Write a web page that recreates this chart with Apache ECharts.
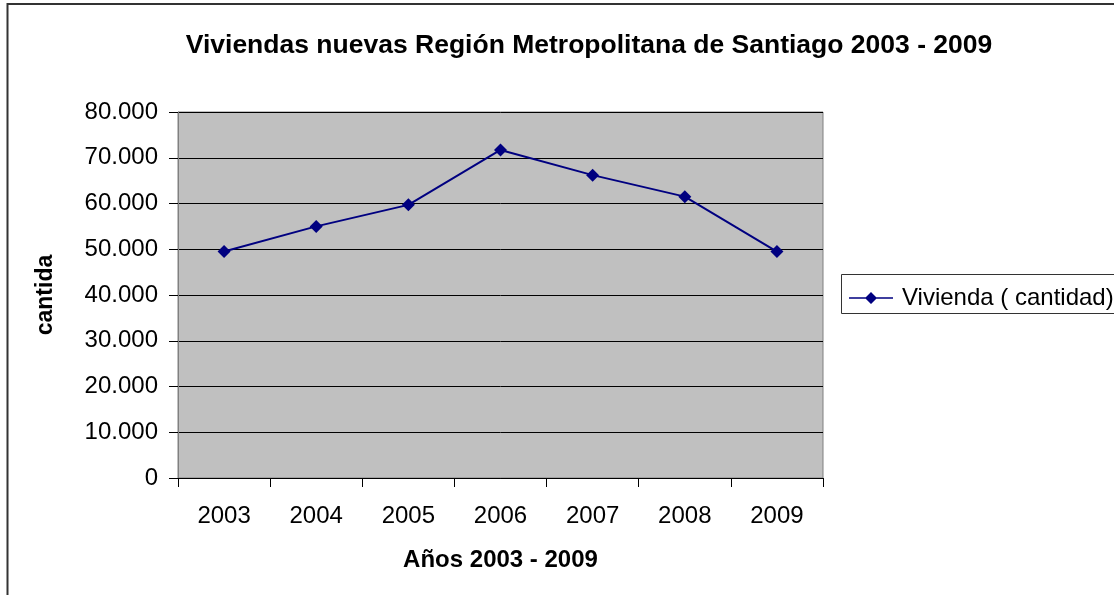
<!DOCTYPE html>
<html>
<head>
<meta charset="utf-8">
<script src="https://cdn.jsdelivr.net/npm/echarts@6/dist/echarts.min.js"></script>
<style>
  html, body { margin: 0; padding: 0; background: #fff; }
  #chart { width: 1114px; height: 595px; }
</style>
</head>
<body>
<div id="chart"></div>
<script>
const years = ['2003', '2004', '2005', '2006', '2007', '2008', '2009']
const viviendas = [49500, 55000, 59700, 71700, 66200, 61500, 49500]
const seriesName = 'Vivienda ( cantidad)'

const chart = echarts.init(document.getElementById('chart'))

const font = '"Liberation Sans", Arial, sans-serif'

// line with a diamond in the middle, like the legend key in the original
const legendIcon = 'path://M0,5.3 L44,5.3 L44,6.7 L0,6.7 Z M22,0 L28,6 L22,12 L16,6 Z'

const option = {
  animation: false,
  backgroundColor: '#fff',
  title: {
    text: 'Viviendas nuevas Región Metropolitana de Santiago 2003 - 2009',
    left: 584,
    top: 27,
    textAlign: 'center',
    textStyle: { fontFamily: font, fontSize: 26.5, fontWeight: 'bold', color: '#000' },
  },
  graphic: [
    {
      type: 'rect',
      shape: { x: 7.5, y: 4, width: 1120, height: 600 },
      style: { fill: 'none', stroke: '#333', lineWidth: 2 },
    },
    {
      type: 'rect',
      shape: { x: 841.5, y: 274.5, width: 290, height: 39 },
      style: { fill: '#fff', stroke: '#333', lineWidth: 1 },
      z: 0,
    },
  ],
  legend: {
    left: 844,
    top: 281,
    itemWidth: 44,
    itemHeight: 12,
    itemGap: 8,
    textStyle: { fontFamily: font, fontSize: 24, color: '#000', padding: [0, 0, 0, 4] },
    data: [{ name: seriesName, icon: legendIcon }],
    z: 5,
  },
  grid: {
    left: 178,
    top: 112,
    right: 291,
    bottom: 117,
    show: true,
    backgroundColor: '#c0c0c0',
    borderColor: '#808080',
    borderWidth: 1,
  },
  xAxis: {
    type: 'category',
    data: years,
    boundaryGap: true,
    name: 'Años 2003 - 2009',
    nameLocation: 'middle',
    nameGap: 70,
    nameTextStyle: { fontFamily: font, fontSize: 24, fontWeight: 'bold', color: '#000' },
    axisLine: { lineStyle: { color: '#000', width: 1 } },
    axisTick: { show: true, length: 9, alignWithLabel: false, lineStyle: { color: '#000' } },
    axisLabel: { fontFamily: font, fontSize: 24, color: '#000', margin: 26 },
  },
  yAxis: {
    type: 'value',
    min: 0,
    max: 80000,
    interval: 10000,
    name: 'cantida',
    nameLocation: 'middle',
    nameGap: 121,
    nameRotate: 90,
    nameTextStyle: { fontFamily: font, fontSize: 23, fontWeight: 'bold', color: '#000' },
    axisLine: { show: true, lineStyle: { color: '#808080', width: 1 } },
    axisTick: { show: true, length: 9, lineStyle: { color: '#000' } },
    axisLabel: {
      fontFamily: font,
      fontSize: 24,
      color: '#000',
      margin: 20,
      padding: [6, 0, 0, 0],
      formatter: (v) => v === 0 ? '0' : (v / 1000).toFixed(0) + '.000',
    },
    splitLine: { show: true, lineStyle: { color: '#000', width: 1 } },
  },
  series: [
    {
      name: seriesName,
      type: 'line',
      data: viviendas,
      symbol: 'diamond',
      symbolSize: 13,
      itemStyle: { color: '#000080' },
      lineStyle: { color: '#000080', width: 2 },
    },
  ],
}

chart.setOption(option)
</script>
</body>
</html>
